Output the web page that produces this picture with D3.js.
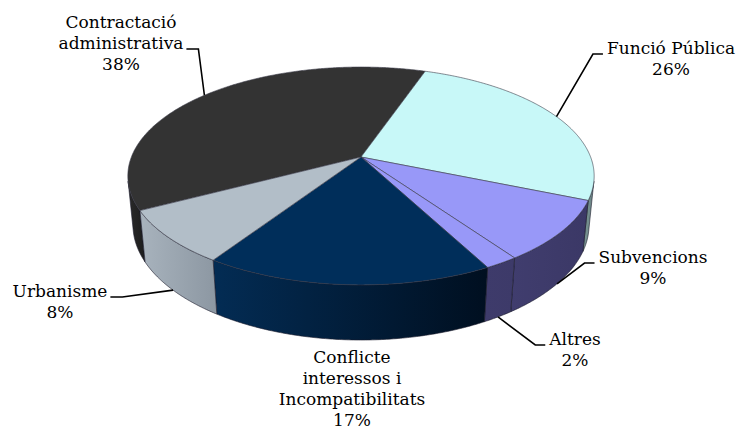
<!DOCTYPE html>
<html>
<head>
<meta charset="utf-8">
<script src="https://cdn.jsdelivr.net/npm/d3@7"></script>
<style>
  body { margin: 0; background: #fff; }
  svg text { font-family: "DejaVu Serif", Georgia, serif; font-size: 17px; fill: #000; }
</style>
</head>
<body>
<svg id="chart" width="738" height="430"></svg>
<script>
// data
const categories = ["Contractació administrativa", "Funció Pública", "Subvencions", "Altres",
                    "Conflicte interessos i Incompatibilitats", "Urbanisme"];
const values = [38, 26, 9, 2, 17, 8];

// colours (top face, side gradient left -> right)
const topColors = ["#333333", "#c8f8f8", "#9898f8", "#9898f8", "#002e5a", "#b2bec8"];
const sideColors = [["#2a2a2a", "#1c1c1c"], ["#7a9494", "#6a8484"], ["#403d6e", "#3b3866"],
                    ["#3e3b6b", "#3d3a69"], ["#032c54", "#000f20"], ["#a8b3bd", "#8c97a2"]];

// label layout: text lines (percent is added), centre x, first baseline, leader side
const labelLayout = [
  { lines: ["Contractació", "administrativa"], x: 121, y: 28, leader: 1, side: "right" },
  { lines: ["Funció Pública"], x: 671, y: 54, leader: 0, side: "left" },
  { lines: ["Subvencions"], x: 653, y: 263, leader: 0, side: "left" },
  { lines: ["Altres"], x: 575, y: 345, leader: 0, side: "left" },
  { lines: ["Conflicte", "interessos i", "Incompatibilitats"], x: 352, y: 363, leader: -1 },
  { lines: ["Urbanisme"], x: 60, y: 297, leader: 0, side: "right" }
];
const lineHeight = 21;

const svg = d3.select("#chart");
const defs = svg.append("defs");

// simple perspective camera looking down at the pie
const cam = { cx: 361, cy: 157, f: 1171, D: 5.1, tilt: Math.asin(0.46), depth: 0.243 };
const sT = Math.sin(cam.tilt), cT = Math.cos(cam.tilt);

function project(X, Y, Z) {
  const dz = Z * cT + Y * sT;
  const v = Y * cT - Z * sT;
  const k = cam.f / (cam.D - dz);
  return [cam.cx + X * k, cam.cy - v * k];
}
// point on the rim, angle clockwise from the back (12 o'clock)
function rim(theta, y) {
  return project(Math.sin(theta), y, -Math.cos(theta));
}
function arcPoints(a0, a1, y) {
  const n = Math.max(2, Math.ceil(Math.abs(a1 - a0) / (Math.PI / 360)));
  return d3.range(n + 1).map(i => rim(a0 + (a1 - a0) * i / n, y));
}

const pie = d3.pie().sort(null)
  .startAngle(-117.8 * Math.PI / 180)
  .endAngle((360 - 117.8) * Math.PI / 180);
const arcs = pie(values);

// visible part of the outer wall
const visLimit = Math.acos(-1 / (cam.D * cT));
const visRanges = [-1, 0, 1].map(k => [visLimit + 2 * Math.PI * k, 2 * Math.PI - visLimit + 2 * Math.PI * k]);

const walls = svg.append("g").attr("class", "walls");
arcs.forEach((d, i) => {
  visRanges.forEach(([v0, v1], j) => {
    const a0 = Math.max(d.startAngle, v0), a1 = Math.min(d.endAngle, v1);
    if (a1 <= a0) return;
    const top = arcPoints(a0, a1, 0);
    const bottom = arcPoints(a0, a1, -cam.depth).reverse();
    const pts = top.concat(bottom);
    const xs = d3.extent(pts, p => p[0]);
    const gid = `side-${i}-${j}`;
    const grad = defs.append("linearGradient").attr("id", gid)
      .attr("gradientUnits", "userSpaceOnUse")
      .attr("x1", xs[0]).attr("x2", xs[1]).attr("y1", 0).attr("y2", 0);
    grad.append("stop").attr("offset", 0).attr("stop-color", sideColors[i][0]);
    grad.append("stop").attr("offset", 1).attr("stop-color", sideColors[i][1]);
    walls.append("path")
      .attr("d", d3.line()(pts) + "Z")
      .attr("fill", `url(#${gid})`)
      .attr("stroke", "#1a1a2a")
      .attr("stroke-width", 0.6)
      .attr("stroke-linejoin", "round");
  });
});

// top faces
const center = project(0, 0, 0);
svg.append("g").attr("class", "tops")
  .selectAll("path")
  .data(arcs)
  .join("path")
  .attr("d", d => d3.line()([center].concat(arcPoints(d.startAngle, d.endAngle, 0))) + "Z")
  .attr("fill", (d, i) => topColors[i])
  .attr("stroke", "#3a3a48")
  .attr("stroke-width", 0.6)
  .attr("stroke-linejoin", "round");

// labels and leader lines
const labels = svg.append("g").attr("class", "labels");
arcs.forEach((d, i) => {
  const L = labelLayout[i];
  const lines = L.lines.concat([`${values[i]}%`]);
  const texts = lines.map((t, k) => labels.append("text")
    .attr("x", L.x)
    .attr("y", L.y + k * lineHeight)
    .attr("text-anchor", "middle")
    .text(t));
  if (L.leader < 0) return;

  const mid = (d.startAngle + d.endAngle) / 2;
  const front = Math.cos(mid) < 0;
  const anchor = rim(mid, front ? -cam.depth : 0);
  const w = texts[L.leader].node().getComputedTextLength();
  const by = L.y + L.leader * lineHeight;
  const x0 = L.side === "right" ? L.x + w / 2 + 3 : L.x - w / 2 - 4;
  const x1 = L.side === "right" ? x0 + 12 : x0 - 10;
  labels.append("path")
    .attr("d", d3.line()([[x0, by], [x1, by], anchor]))
    .attr("fill", "none")
    .attr("stroke", "#000")
    .attr("stroke-width", 1.6);
});
</script>
</body>
</html>
